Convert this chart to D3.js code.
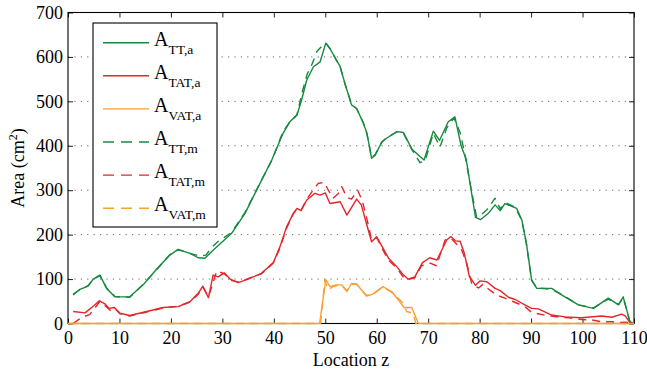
<!DOCTYPE html>
<html><head><meta charset="utf-8">
<script src="https://cdn.jsdelivr.net/npm/d3@7"></script>
<style>body{margin:0;background:#fff}svg{display:block}</style>
</head><body><svg id="c" width="647" height="372"></svg>
<script>
// ---- data ----
const xTicks = [0,10,20,30,40,50,60,70,80,90,100,110];
const yTicks = [0,100,200,300,400,500,600,700];
const gridTicks = [100,200,300,400,500,600];

const zTTa = [1,2.3,3.9,4.9,6.2,7.5,9.1,12,14.6,17.2,19.8,21.4,23.7,25.3,26.6,28.2,31.8,34.4,37,39.6,41.8,43.1,44.5,45.4,46.4,47.7,49,50.1,50.9,52.9,53.8,55.1,56.1,57.4,58.1,59,59.7,61,61.9,63.9,65.2,66.8,68.4,69.2,71,72.2,73.9,75.2,76.4,77.4,78.4,79.2,80.2,81.7,83,84,84.9,87.2,88.2,89.1,90.1,91.1,94,96,99.2,102.1,105,107,107.9,108.6,109.2,110];
const vTTa = [64,77,84,100,109,79,60,60,87,122,154,167,158,148,147,165,203,248,308,368,428,454,469,503,548,578,589,631,619,578,541,492,484,451,428,372,379,409,417,432,430,393,376,368,433,412,454,465,400,369,296,239,234,248,267,254,270,259,233,180,98,79,79,64,42,34,57,42,60,30,4,0];

const zTATa = [1,3.3,4.9,6.1,7.2,8,9,10.1,12,15.3,18.5,21.4,23.7,25.3,26.2,27.3,28.2,29.2,30.4,31.5,33.1,35,37.6,39.9,41.2,42.5,43.8,44.5,45.3,46.4,48,49,50,50.9,52.9,54.2,56.1,57,58,59,60,61,62.3,63.9,65.2,66.1,67.4,68.9,70.3,71.7,73.6,74.4,75.3,76.2,77,78,79.2,80.1,81.4,83,84,85.6,86.9,88.8,90.1,91.4,94,96.6,99.8,103.7,105.7,107.6,108.3,109.2,110];
const vTATa = [27,24,39,51,44,34,36,23,18,27,36,38,49,68,84,58,109,105,114,100,92,100,113,137,173,218,248,259,254,278,293,289,294,270,274,244,280,267,225,184,195,174,147,128,109,100,105,137,148,143,188,196,186,185,159,106,86,96,94,79,74,59,54,42,34,33,19,15,13,17,14,21,17,2,0];

const zVATa = [0,48.9,50.1,50.9,52.1,53.2,54.2,55.1,56.1,58,59.3,61.2,62.9,64.2,65.3,66.8,68.1,110];
const vVATa = [0,0,99,83,87,87,72,90,89,62,66,83,72,53,36,36,0,0];

const zTTm = [1,2.3,3.9,4.9,6.2,7.5,9.1,12,14.6,17.2,19.8,21.4,23.7,25.5,26.8,28,29.2,31.8,34.4,37,39.6,41.8,43,44.5,45.5,46.5,47.3,48.4,49.4,50.1,50.9,52.9,53.8,55.1,56.1,57.4,58.1,59,59.7,61,61.9,63.9,65.2,66.8,68.4,69.4,71,72.3,73.6,75,76.2,77,78.4,79.4,80.4,81.4,83,84,85,86.9,88.2,89.1,90.1,91.1,94,96,99.2,102.1,105,107,107.9,108.6,109.2,110];
const vTTm = [66,76,85,99,108,80,61,59,88,121,155,166,158,152,154,172,185,205,250,309,367,432,452,470,520,562,580,613,625,631,619,577,540,494,483,452,426,374,380,408,418,431,428,392,362,366,428,397,440,463,430,388,300,240,246,256,282,258,272,262,232,178,97,80,77,65,42,35,55,43,58,30,4,0];

const zTATm = [1,2.7,4.2,5.3,6.2,7.2,8.2,9,10.1,12,15.3,18.5,21.4,23.7,25.3,26.2,27.3,28.9,30.4,31.5,33.1,35,37.6,39.9,41.2,42.5,43.8,44.5,45.3,46.4,47.5,48.6,49.8,50.6,51.5,52.5,53.2,54.2,55.1,56.3,57.2,58.1,59,60,61,62.3,63.9,65.2,66.1,67.4,68.7,70.4,71.6,73.3,74.4,75.4,76.5,77.5,78.5,79.8,80.6,82,83.3,84.9,86.6,88.8,90.1,93,95.8,97.4,99.8,101.8,103.7,105.7,107,108.3,109.2,110];
const vTATm = [0,14,20,36,50,40,30,35,22,17,26,35,39,48,66,82,60,118,112,98,93,101,112,136,170,215,247,258,255,280,298,315,318,300,282,292,308,284,280,300,276,235,188,193,170,142,125,104,99,103,130,136,130,188,192,180,166,135,88,80,88,75,64,57,49,38,25,18,14,13,9,8,4,4,2,3,1,0];

const zVATm = [0,49.1,49.9,50.6,51.5,52.5,53.2,54.2,55.1,56.1,58,59.3,61.2,62.9,63.9,65.2,65.8,67.1,67.6,110];
const vVATm = [0,0,97,76,83,86,86,74,88,88,63,67,82,70,60,45,27,23,0,0];

const seriesNames = ["TT,a","TAT,a","VAT,a","TT,m","TAT,m","VAT,m"];
const colGreen = "#17893f", colRed = "#e2262b", colOrange = "#f8a033";
const SERIF = "'Liberation Serif'";

// ---- chart ----
const svg = d3.select("#c");
const L = 68, R = 634, T = 12.5, B = 323.5;
const x = d3.scaleLinear().domain([0,110]).range([L,R]);
const y = d3.scaleLinear().domain([0,700]).range([B,T]);

// grid
svg.append("g").selectAll("line").data(gridTicks).join("line")
  .attr("x1",L).attr("x2",R).attr("y1",d=>y(d)).attr("y2",d=>y(d))
  .attr("stroke","#666").attr("stroke-width",1).attr("stroke-dasharray","1.2,5.2");

function styleAxis(g, labels){
  g.select(".domain").remove();
  g.selectAll(".tick line").attr("stroke","#222");
  if(!labels) g.selectAll(".tick text").remove();
  else g.selectAll(".tick text").style("font-size","18px").style("font-family",SERIF).attr("fill","#000");
}
svg.append("g").attr("transform",`translate(0,${B})`)
  .call(d3.axisBottom(x).tickValues(xTicks).tickSize(-5).tickPadding(8).tickFormat(d3.format("d")))
  .call(g=>styleAxis(g,true));
svg.append("g").attr("transform",`translate(0,${T})`)
  .call(d3.axisTop(x).tickValues(xTicks).tickSize(-5))
  .call(g=>styleAxis(g,false));
svg.append("g").attr("transform",`translate(${L},0)`)
  .call(d3.axisLeft(y).tickValues(yTicks).tickSize(-5).tickPadding(5).tickFormat(d3.format("d")))
  .call(g=>styleAxis(g,true));
svg.append("g").attr("transform",`translate(${R},0)`)
  .call(d3.axisRight(y).tickValues(yTicks).tickSize(-5))
  .call(g=>styleAxis(g,false));

svg.append("rect").attr("x",L).attr("y",T).attr("width",R-L).attr("height",B-T)
  .attr("fill","none").attr("stroke","#000").attr("stroke-width",1.1);

const line = d3.line().x(d=>x(d[0])).y(d=>y(d[1]));
const series = [
  {z:zTTa, v:vTTa, c:colGreen, dash:null},
  {z:zTATa, v:vTATa, c:colRed, dash:null},
  {z:zVATa, v:vVATa, c:colOrange, dash:null},
  {z:zTTm, v:vTTm, c:colGreen, dash:"8,6"},
  {z:zTATm, v:vTATm, c:colRed, dash:"8,6"},
  {z:zVATm, v:vVATm, c:colOrange, dash:"8,6"}
];
series.forEach(s=>{
  svg.append("path").datum(d3.zip(s.z,s.v)).attr("d",line)
    .attr("fill","none").attr("stroke",s.c).attr("stroke-width",1.4)
    .attr("stroke-linejoin","round")
    .attr("stroke-dasharray",s.dash);
});

// axis labels
svg.append("text").attr("x",(L+R)/2).attr("y",365.5).attr("text-anchor","middle")
  .style("font-family",SERIF).style("font-size","18px").text("Location z");
const yl = svg.append("text").attr("transform","translate(24,168) rotate(-90)")
  .attr("text-anchor","middle").style("font-family",SERIF).style("font-size","18px");
yl.append("tspan").text("Area (cm");
yl.append("tspan").attr("dy",-7).style("font-size","12px").text("2");
yl.append("tspan").attr("dy",7).text(")");

// legend
const lg = svg.append("g");
lg.append("rect").attr("x",93).attr("y",23).attr("width",124).attr("height",204)
  .attr("fill","#fff").attr("stroke","#000").attr("stroke-width",1.1);
series.forEach((s,i)=>{
  const yy = 42.7 + i*33.1;
  lg.append("line").attr("x1",103).attr("x2",149).attr("y1",yy).attr("y2",yy)
    .attr("stroke",s.c).attr("stroke-width",1.4).attr("stroke-dasharray",s.dash?"11,7":null);
  const t = lg.append("text").attr("x",154).attr("y",yy+3).style("font-family",SERIF);
  t.append("tspan").style("font-size","20px").text("A");
  t.append("tspan").attr("dy",8).style("font-size","13.5px").text(seriesNames[i]);
});
</script></body></html>
